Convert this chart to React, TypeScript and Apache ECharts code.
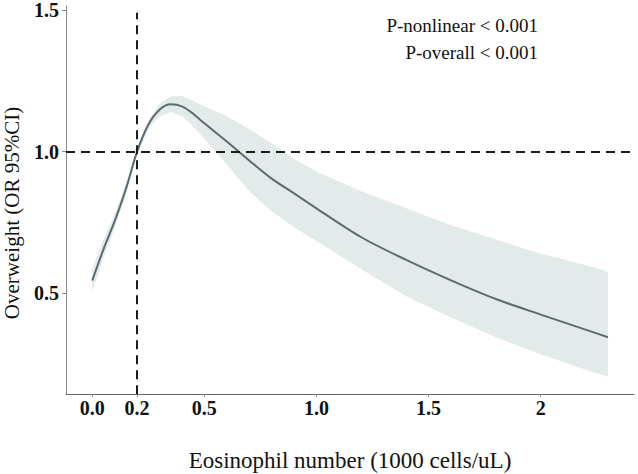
import React, { useEffect, useRef } from "react";
import * as echarts from "echarts";

const xValues = [0, 0.05, 0.1, 0.15, 0.2, 0.25, 0.3, 0.35, 0.4, 0.45, 0.5, 0.6, 0.7, 0.8, 0.9, 1.0, 1.2, 1.4, 1.6, 1.8, 2.0, 2.2, 2.3];
const orValues = [0.545, 0.655, 0.755, 0.868, 1.0, 1.095, 1.148, 1.167, 1.16, 1.134, 1.1, 1.036, 0.969, 0.905, 0.853, 0.8, 0.698, 0.618, 0.546, 0.48, 0.425, 0.372, 0.345];
const upperValues = [0.585, 0.69, 0.78, 0.885, 1.01, 1.11, 1.17, 1.195, 1.197, 1.18, 1.16, 1.125, 1.08, 1.03, 0.975, 0.93, 0.86, 0.8, 0.74, 0.69, 0.64, 0.6, 0.576];
const lowerValues = [0.505, 0.625, 0.73, 0.85, 0.99, 1.08, 1.125, 1.14, 1.125, 1.09, 1.045, 0.955, 0.86, 0.79, 0.733, 0.685, 0.585, 0.49, 0.415, 0.345, 0.285, 0.23, 0.206];

const xTickValues = [0, 0.2, 0.5, 1.0, 1.5, 2];
const yTickValues = [0.5, 1.0, 1.5];
const refX = 0.2;
const refY = 1.0;

const xTitle = "Eosinophil number (1000 cells/uL)";
const yTitle = "Overweight (OR 95%CI)";
const pTexts = ["P-nonlinear < 0.001", "P-overall < 0.001"];

const SERIF = "'Liberation Serif', 'Times New Roman', serif";

export default function App() {
  const ref = useRef<HTMLDivElement>(null);

  useEffect(() => {
    if (!ref.current) return;
    const chart = echarts.init(ref.current, undefined, { renderer: "svg" });
    const xMin = -0.117;
    const xMax = 2.416;
    const yMin = 0.1437;
    const yMax = 1.514;

    const bandData = xValues.map((x, i) => [x, lowerValues[i], upperValues[i]]);

    const option: any = {
      animation: false,
      backgroundColor: "#ffffff",
      grid: { left: 66, right: 4, top: 6, bottom: 79.7, containLabel: false },
      xAxis: {
        type: "value",
        min: xMin,
        max: xMax,
        splitLine: { show: false },
        axisLine: { show: true, onZero: false, lineStyle: { color: "#666", width: 1 } },
        axisTick: { show: true, length: 3, lineStyle: { color: "#999" }, customValues: xTickValues },
        axisLabel: {
          customValues: xTickValues,
          margin: 4,
          fontFamily: SERIF,
          fontWeight: "bold",
          fontSize: 20,
          color: "#111",
          formatter: (v: number) => (v === 2 ? "2" : v.toFixed(1)),
        },
      },
      yAxis: {
        type: "value",
        min: yMin,
        max: yMax,
        splitLine: { show: false },
        axisLine: { show: true, onZero: false, lineStyle: { color: "#888", width: 1 } },
        axisTick: { show: true, length: 4, lineStyle: { color: "#888" }, customValues: yTickValues },
        axisLabel: {
          customValues: yTickValues,
          margin: 7,
          fontFamily: SERIF,
          fontWeight: "bold",
          fontSize: 20,
          color: "#111",
          formatter: (v: number) => v.toFixed(1),
        },
      },
      series: [
        {
          name: "95% CI",
          type: "custom",
          silent: true,
          clip: true,
          data: bandData,
          encode: { x: 0, y: [1, 2] },
          renderItem: (params: any, api: any) => {
            if (params.dataIndex !== 0) return null;
            const upperPts = bandData.map((d) => api.coord([d[0], d[2]]));
            const lowerPts = bandData.map((d) => api.coord([d[0], d[1]])).reverse();
            return {
              type: "polygon",
              shape: { points: upperPts.concat(lowerPts) },
              style: { fill: "#e2ebe9", stroke: "none" },
            };
          },
          z: 1,
        },
        {
          name: "OR",
          type: "line",
          smooth: 0.3,
          symbol: "none",
          z: 3,
          lineStyle: { color: "#5c6a72", width: 2 },
          data: xValues.map((x, i) => [x, orValues[i]]),
          markLine: {
            silent: true,
            symbol: ["none", "none"],
            label: { show: false },
            lineStyle: { color: "#1c1c1c", width: 2, type: [9, 6] },
            data: [
              [{ coord: [refX, yMin] }, { coord: [refX, 1.49] }],
              [{ coord: [xMin, refY] }, { coord: [xMax, refY] }],
            ],
          },
        },
      ],
      graphic: [
        {
          type: "text",
          x: 350,
          y: 460,
          z: 10,
          style: {
            text: xTitle,
            fontFamily: SERIF,
            fontSize: 23,
            fill: "#111",
            align: "center",
            verticalAlign: "middle",
          },
        },
        {
          type: "text",
          x: 12,
          y: 213,
          z: 10,
          rotation: Math.PI / 2,
          style: {
            text: yTitle,
            fontFamily: SERIF,
            fontSize: 21,
            fill: "#111",
            align: "center",
            verticalAlign: "middle",
          },
        },
        {
          type: "text",
          x: 538,
          y: 25,
          z: 10,
          style: {
            text: pTexts[0],
            fontFamily: SERIF,
            fontSize: 19,
            fill: "#111",
            align: "right",
            verticalAlign: "middle",
          },
        },
        {
          type: "text",
          x: 538,
          y: 52,
          z: 10,
          style: {
            text: pTexts[1],
            fontFamily: SERIF,
            fontSize: 19,
            fill: "#111",
            align: "right",
            verticalAlign: "middle",
          },
        },
      ],
    };
    chart.setOption(option);
    return () => chart.dispose();
  }, []);

  return (
    <div
      ref={ref}
      style={{ position: "absolute", left: 0, top: 0, width: 638, height: 474, background: "#fff" }}
    />
  );
}
